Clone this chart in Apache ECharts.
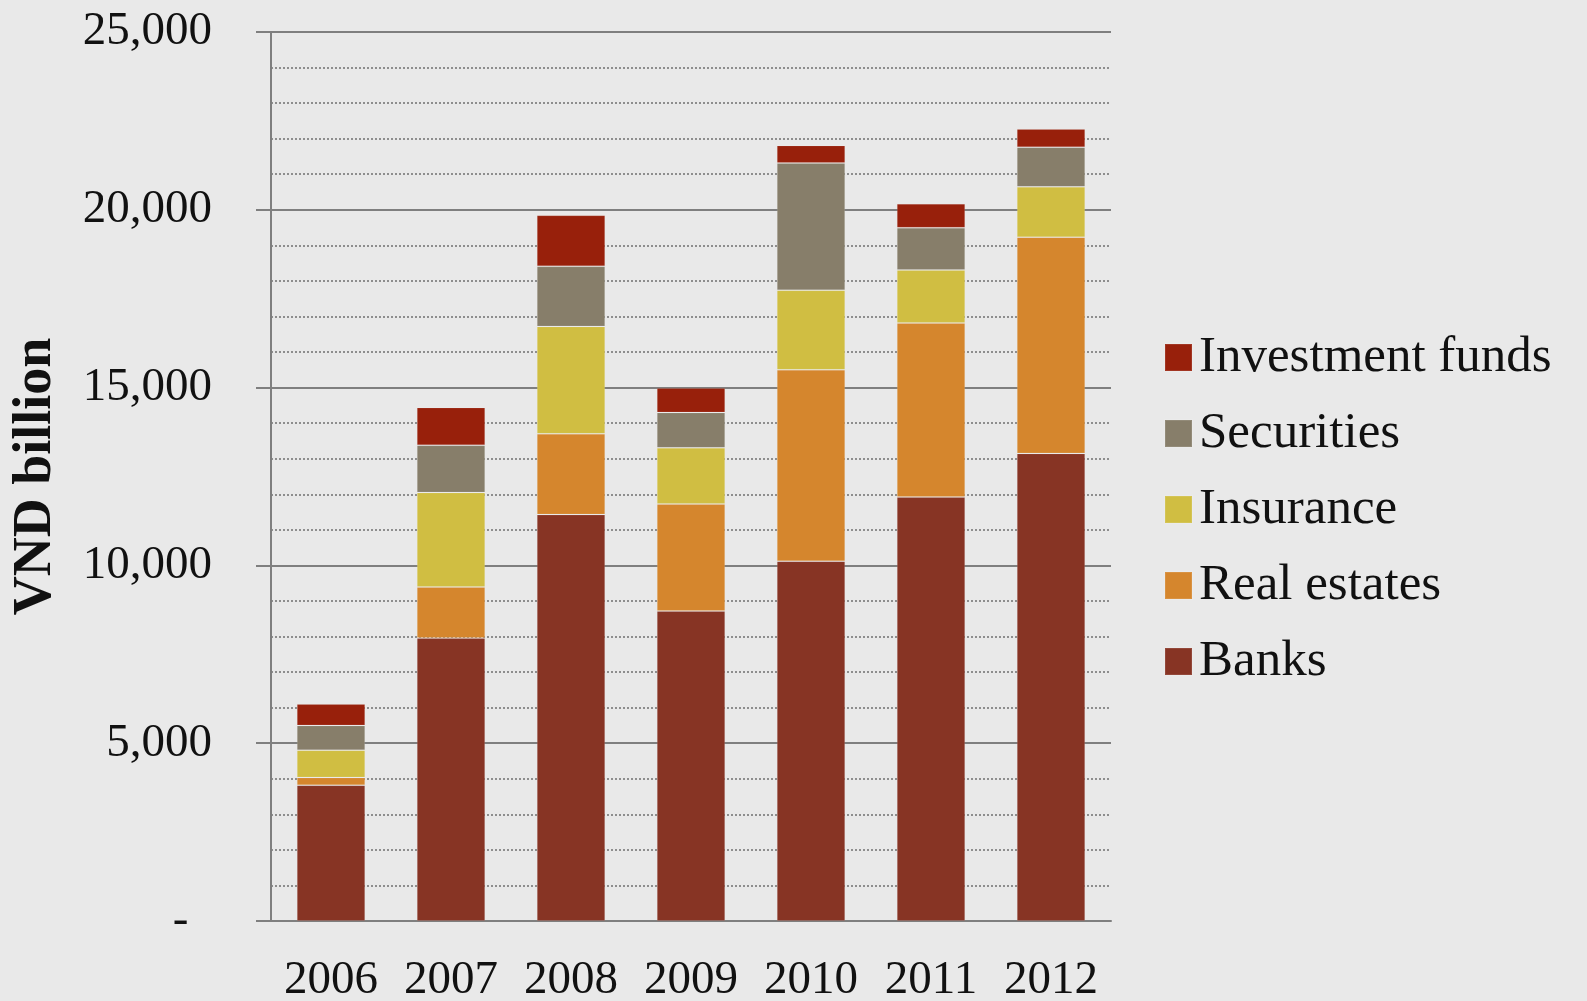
<!DOCTYPE html>
<html>
<head>
<meta charset="utf-8">
<script src="https://cdn.jsdelivr.net/npm/echarts@6/dist/echarts.min.js"></script>
<style>
  html, body { margin: 0; padding: 0; background: #e9e9e9; }
  #chart { width: 1587px; height: 1001px; }
</style>
</head>
<body>
<div id="chart"></div>
<script>
var years = ['2006', '2007', '2008', '2009', '2010', '2011', '2012'];
var banks = [3820, 7960, 11430, 8720, 10120, 11920, 13150];
var realEstates = [217, 1435, 2270, 3010, 5380, 4900, 6080];
var insurance = [768, 2655, 3020, 1575, 2240, 1485, 1415];
var securities = [695, 1330, 1690, 995, 3575, 1190, 1115];
var investFunds = [600, 1060, 1435, 690, 495, 675, 515];
var yTicks = [0, 5000, 10000, 15000, 20000, 25000];

var font = 'Liberation Serif';
var dom = document.getElementById('chart');
var myChart = echarts.init(dom);

function bar(name, data, color) {
    return {
        name: name,
        type: 'bar',
        stack: 'total',
        barWidth: '57%',
        data: data,
        itemStyle: {
            color: color,
            borderColor: 'rgba(255,255,255,0.1)',
            borderWidth: 1
        }
    };
}

var option = {
    backgroundColor: '#e9e9e9',
    animation: false,
    textStyle: { fontFamily: font },
    grid: { left: 271, top: 32, width: 840, height: 889, containLabel: false, outerBoundsMode: 'none' },
    legend: {
        orient: 'vertical',
        left: 1159,
        top: 327,
        icon: 'rect',
        itemWidth: 27,
        itemHeight: 27,
        itemGap: 25,
        selectedMode: false,
        data: ['Investment funds', 'Securities', 'Insurance', 'Real estates', 'Banks'],
        textStyle: { fontFamily: font, fontSize: 51, lineHeight: 50, color: '#111', padding: [0, 0, 0, 2] }
    },
    xAxis: {
        type: 'category',
        data: years,
        axisLine: { lineStyle: { color: '#7f7f7f', width: 2 } },
        axisTick: { show: false },
        axisLabel: { fontFamily: font, fontSize: 47, color: '#111', margin: 36, interval: 0 }
    },
    yAxis: {
        type: 'value',
        min: 0,
        max: 25000,
        interval: 5000,
        name: 'VND billion',
        nameLocation: 'middle',
        nameRotate: 90,
        nameGap: 208,
        nameTextStyle: { fontFamily: font, fontSize: 54, fontWeight: 'bold', color: '#111' },
        axisLine: { show: true, lineStyle: { color: '#7f7f7f', width: 2 } },
        axisTick: { show: true, length: 15, lineStyle: { color: '#7f7f7f', width: 2 } },
        axisLabel: {
            fontFamily: font, fontSize: 47, color: '#111', margin: 59,
            formatter: function (v) {
                if (yTicks.indexOf(v) < 0) return '';
                return v === 0 ? '-  ' : v.toLocaleString('en-US');
            }
        },
        splitLine: { lineStyle: { color: '#7f7f7f', width: 2 } },
        minorTick: { show: false, splitNumber: 5 },
        minorSplitLine: { show: true, lineStyle: { color: '#8e8e8e', width: 2, type: [2, 2] } }
    },
    series: [
        bar('Banks', banks, '#873424'),
        bar('Real estates', realEstates, '#d5862d'),
        bar('Insurance', insurance, '#d0be42'),
        bar('Securities', securities, '#877e6a'),
        bar('Investment funds', investFunds, '#98200b')
    ]
};

if (option && typeof option === "object") {
    myChart.setOption(option, true);
}
</script>
</body>
</html>
